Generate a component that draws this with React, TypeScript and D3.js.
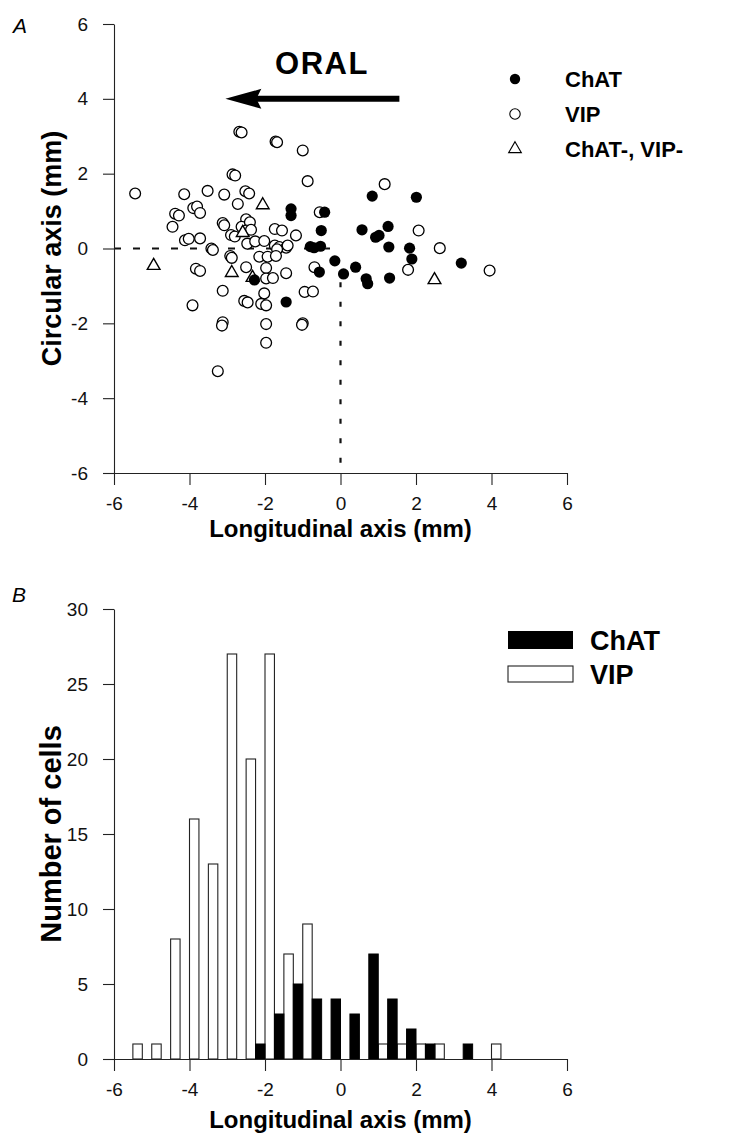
import React, { useEffect, useRef } from "react";
import * as d3 from "d3";

const width = 739;
const height = 1138;
const font = "'Liberation Sans', Arial, Helvetica, sans-serif";

// Panel A: cell positions (mm)
const chatPoints: [number, number][] = [
  [-1.31, 1.06], [-1.31, 0.88], [-0.42, 0.97], [-0.51, 0.48], [-0.8, 0.05],
  [-0.7, 0.02], [-0.53, 0.06], [-0.15, -0.33], [0.08, -0.68], [-0.56, -0.63],
  [-1.44, -1.43], [0.57, 0.5], [1.26, 0.59], [0.93, 0.3], [1.02, 0.35],
  [1.28, 0.04], [1.83, 0.01], [1.89, -0.28], [3.2, -0.39], [1.3, -0.79],
  [0.68, -0.81], [0.72, -0.94], [0.84, 1.4], [2.01, 1.37], [-2.28, -0.84],
  [0.4, -0.5],
];

const vipPoints: [number, number][] = [
  [-5.44, 1.47], [-2.68, 3.12], [-2.62, 3.1], [-1.72, 2.86], [-1.68, 2.84],
  [-1.0, 2.62], [-0.87, 1.8], [-2.86, 1.98], [-2.79, 1.95], [-4.14, 1.45],
  [-3.52, 1.54], [-3.08, 1.44], [-2.52, 1.53], [-2.42, 1.47], [-2.72, 1.19],
  [-3.9, 1.08], [-3.8, 1.12], [-3.72, 0.95], [-4.38, 0.93], [-4.28, 0.88],
  [-4.45, 0.58], [-3.12, 0.68], [-3.08, 0.62], [-2.5, 0.78], [-2.62, 0.58],
  [-2.4, 0.7], [-2.5, 0.48], [-2.37, 0.5], [-2.9, 0.36], [-2.8, 0.32],
  [-1.74, 0.52], [-1.55, 0.48], [-1.18, 0.35], [-0.55, 0.97], [-4.12, 0.22],
  [-4.02, 0.26], [-3.72, 0.27], [-3.42, 0.0], [-3.38, -0.04], [-2.47, 0.13],
  [-2.26, 0.19], [-2.02, 0.2], [-1.74, 0.08], [-1.62, 0.04], [-1.44, 0.02],
  [-1.4, 0.08], [-1.68, -0.02], [-2.15, -0.22], [-1.93, -0.22], [-1.71, -0.2],
  [-2.92, -0.2], [-2.88, -0.25], [-1.97, -0.52], [-2.5, -0.5], [-1.97, -0.8],
  [-1.79, -0.79], [-1.44, -0.66], [-3.83, -0.54], [-3.72, -0.6], [-0.69, -0.5],
  [-3.12, -1.13], [-0.95, -1.16], [-0.73, -1.15], [-2.02, -1.2], [-3.92, -1.52],
  [-2.55, -1.4], [-2.46, -1.44], [-2.1, -1.48], [-1.97, -1.52], [-3.12, -1.97],
  [-3.14, -2.06], [-3.25, -3.28], [-1.97, -2.02], [-1.97, -2.52], [-1.0, -2.0],
  [-1.02, -2.04], [1.17, 1.72], [2.07, 0.48], [2.63, 0.01], [3.95, -0.59],
  [1.79, -0.57],
];

const negPoints: [number, number][] = [
  [-4.95, -0.46], [-2.06, 1.16], [-2.59, 0.42], [-2.88, -0.65], [-2.33, -0.78],
  [2.49, -0.84],
];

const axisTicksA = [-6, -4, -2, 0, 2, 4, 6];

// Panel B: histogram, 0.5 mm bins
const binCenters = [
  -5.5, -5.0, -4.5, -4.0, -3.5, -3.0, -2.5, -2.0, -1.5, -1.0,
  -0.5, 0.0, 0.5, 1.0, 1.5, 2.0, 2.5, 3.0, 3.5, 4.0,
];
const chatCounts = [0, 0, 0, 0, 0, 0, 0, 1, 3, 5, 4, 4, 3, 7, 4, 2, 1, 0, 1, 0];
const vipCounts = [1, 1, 8, 16, 13, 27, 20, 27, 7, 9, 0, 0, 0, 1, 1, 1, 1, 0, 0, 1];
const countTicks = [0, 5, 10, 15, 20, 25, 30];

function styleAxis(g: any, fontSize: number) {
  g.select(".domain").attr("stroke", "#222").attr("stroke-width", 1.1);
  g.selectAll(".tick line").attr("stroke", "#222").attr("stroke-width", 1.1);
  g.selectAll(".tick text")
    .attr("fill", "#111")
    .style("font-family", font)
    .style("font-size", fontSize + "px");
}

export default function App() {
  const ref = useRef<SVGSVGElement>(null);

  useEffect(() => {
    const svg = d3.select(ref.current);
    svg.selectAll("*").remove();

    svg.append("rect").attr("width", width).attr("height", height).attr("fill", "#fff");

    // ---------- Panel A ----------
    const xA = d3.scaleLinear().domain([-6, 6]).range([114, 567]);
    const yA = d3.scaleLinear().domain([-6, 6]).range([473, 24]);

    const gA = svg.append("g");

    // reference lines through the origin
    gA.append("line")
      .attr("x1", xA(-6)).attr("x2", xA(0))
      .attr("y1", yA(0)).attr("y2", yA(0))
      .attr("stroke", "#111").attr("stroke-width", 2.2)
      .attr("stroke-dasharray", "7 12");
    gA.append("line")
      .attr("x1", xA(0)).attr("x2", xA(0))
      .attr("y1", yA(-0.9)).attr("y2", yA(-6))
      .attr("stroke", "#111").attr("stroke-width", 2.2)
      .attr("stroke-dasharray", "5 14.5");

    const axA = gA.append("g")
      .attr("transform", `translate(${xA(-6)},0)`)
      .call(d3.axisLeft(yA).tickValues(axisTicksA).tickSize(11).tickSizeOuter(0)
        .tickPadding(15).tickFormat((d: any) => `${d}`));
    styleAxis(axA, 19);

    const axAx = gA.append("g")
      .attr("transform", `translate(0,${yA(-6)})`)
      .call(d3.axisBottom(xA).tickValues(axisTicksA).tickSize(12).tickSizeOuter(0)
        .tickPadding(12).tickFormat((d: any) => `${d}`));
    styleAxis(axAx, 19);

    // points
    gA.append("g").selectAll("circle.vip")
      .data(vipPoints).enter().append("circle")
      .attr("cx", d => xA(d[0])).attr("cy", d => yA(d[1]))
      .attr("r", 5.4).attr("fill", "#fff")
      .attr("stroke", "#000").attr("stroke-width", 1.3);

    const tri = d3.symbol().type(d3.symbolTriangle).size(70);
    gA.append("g").selectAll("path.neg")
      .data(negPoints).enter().append("path")
      .attr("d", tri)
      .attr("transform", d => `translate(${xA(d[0])},${yA(d[1])})`)
      .attr("fill", "#fff").attr("stroke", "#000").attr("stroke-width", 1.4);

    gA.append("g").selectAll("circle.chat")
      .data(chatPoints).enter().append("circle")
      .attr("cx", d => xA(d[0])).attr("cy", d => yA(d[1]))
      .attr("r", 5.6).attr("fill", "#000");

    // oral arrow
    gA.append("text")
      .attr("x", 322).attr("y", 74)
      .attr("text-anchor", "middle")
      .style("font-family", font).style("font-weight", "bold")
      .style("font-size", "31px").style("letter-spacing", "1.5px")
      .text("ORAL");
    gA.append("line")
      .attr("x1", xA(1.56)).attr("x2", xA(-2.3))
      .attr("y1", yA(4)).attr("y2", yA(4))
      .attr("stroke", "#000").attr("stroke-width", 6);
    const ax0 = xA(-3.05), ay = yA(4);
    gA.append("path")
      .attr("d", `M${ax0},${ay} L${ax0 + 36},${ay - 10} L${ax0 + 31},${ay} L${ax0 + 36},${ay + 10} Z`)
      .attr("fill", "#000");

    // legend A
    const legA = gA.append("g").style("font-family", font)
      .style("font-weight", "bold").style("font-size", "22px");
    legA.append("circle").attr("cx", 515).attr("cy", 79).attr("r", 5.2).attr("fill", "#000");
    legA.append("circle").attr("cx", 515).attr("cy", 114).attr("r", 5.2)
      .attr("fill", "#fff").attr("stroke", "#000").attr("stroke-width", 1.1);
    legA.append("path").attr("d", tri)
      .attr("transform", "translate(515,149)")
      .attr("fill", "#fff").attr("stroke", "#000").attr("stroke-width", 1.1);
    legA.append("text").attr("x", 565).attr("y", 87).text("ChAT");
    legA.append("text").attr("x", 565).attr("y", 122).text("VIP");
    legA.append("text").attr("x", 565).attr("y", 157).text("ChAT-, VIP-");

    // titles A
    gA.append("text")
      .attr("x", xA(0)).attr("y", 537).attr("text-anchor", "middle")
      .style("font-family", font).style("font-weight", "bold").style("font-size", "24px")
      .text("Longitudinal axis (mm)");
    gA.append("text")
      .attr("transform", `translate(61,${yA(0)}) rotate(-90)`)
      .attr("text-anchor", "middle")
      .style("font-family", font).style("font-weight", "bold").style("font-size", "27px")
      .text("Circular axis (mm)");
    gA.append("text")
      .attr("x", 13).attr("y", 33)
      .style("font-family", font).style("font-style", "italic").style("font-size", "21px")
      .text("A");

    // ---------- Panel B ----------
    const xB = d3.scaleLinear().domain([-6, 6]).range([114, 567]);
    const yB = d3.scaleLinear().domain([0, 30]).range([1059, 609]);
    const half = 0.25;

    const gB = svg.append("g");

    const bins = binCenters.map((c, i) => ({ c, chat: chatCounts[i], vip: vipCounts[i] }));

    gB.append("g").selectAll("rect.vip")
      .data(bins.filter(d => d.vip > 0)).enter().append("rect")
      .attr("x", d => xB(d.c)).attr("width", xB(half) - xB(0))
      .attr("y", d => yB(d.vip)).attr("height", d => yB(0) - yB(d.vip))
      .attr("fill", "#fff").attr("stroke", "#222").attr("stroke-width", 1.1);

    gB.append("g").selectAll("rect.chat")
      .data(bins.filter(d => d.chat > 0)).enter().append("rect")
      .attr("x", d => xB(d.c - half)).attr("width", xB(half) - xB(0))
      .attr("y", d => yB(d.chat)).attr("height", d => yB(0) - yB(d.chat))
      .attr("fill", "#000").attr("stroke", "#000").attr("stroke-width", 1);

    const axB = gB.append("g")
      .attr("transform", `translate(${xB(-6)},0)`)
      .call(d3.axisLeft(yB).tickValues(countTicks).tickSize(11).tickSizeOuter(0)
        .tickPadding(15).tickFormat((d: any) => `${d}`));
    styleAxis(axB, 19);

    const axBx = gB.append("g")
      .attr("transform", `translate(0,${yB(0)})`)
      .call(d3.axisBottom(xB).tickValues(axisTicksA).tickSize(12).tickSizeOuter(0)
        .tickPadding(12).tickFormat((d: any) => `${d}`));
    styleAxis(axBx, 19);

    // legend B
    const legB = gB.append("g").style("font-family", font)
      .style("font-weight", "bold").style("font-size", "27px");
    legB.append("rect").attr("x", 508).attr("y", 631).attr("width", 65).attr("height", 18).attr("fill", "#000");
    legB.append("rect").attr("x", 508).attr("y", 666).attr("width", 65).attr("height", 16)
      .attr("fill", "#fff").attr("stroke", "#222").attr("stroke-width", 1.1);
    legB.append("text").attr("x", 590).attr("y", 650).text("ChAT");
    legB.append("text").attr("x", 590).attr("y", 684).text("VIP");

    gB.append("text")
      .attr("x", xB(0)).attr("y", 1128).attr("text-anchor", "middle")
      .style("font-family", font).style("font-weight", "bold").style("font-size", "24px")
      .text("Longitudinal axis (mm)");
    gB.append("text")
      .attr("transform", `translate(61,${yB(15)}) rotate(-90)`)
      .attr("text-anchor", "middle")
      .style("font-family", font).style("font-weight", "bold").style("font-size", "29px")
      .text("Number of cells");
    gB.append("text")
      .attr("x", 12).attr("y", 602)
      .style("font-family", font).style("font-style", "italic").style("font-size", "21px")
      .text("B");
  }, []);

  return (
    <svg
      ref={ref}
      width={width}
      height={height}
      style={{ position: "absolute", left: 0, top: 0, display: "block" }}
    />
  );
}
